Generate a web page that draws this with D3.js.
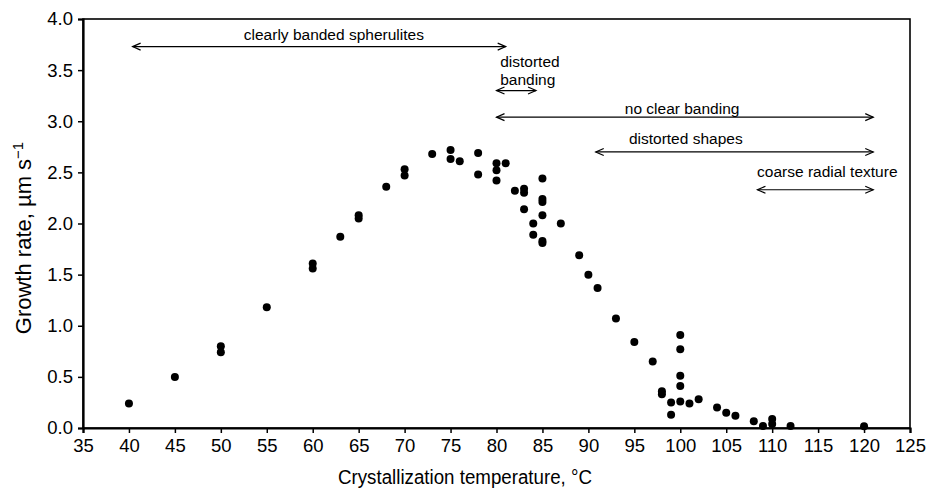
<!DOCTYPE html>
<html>
<head>
<meta charset="utf-8">
<script src="https://cdn.jsdelivr.net/npm/d3@7"></script>
<style>
  body { margin: 0; background: #fff; }
  svg { display: block; font-family: "Liberation Sans", Arial, sans-serif; }
</style>
</head>
<body>
<div id="chart"></div>
<script>
// crystallization temperature (°C) and growth rate (µm/s)
const temps = [40, 45, 50, 50, 55, 60, 60, 63, 65, 65, 68, 70, 70, 73, 75, 75, 76, 78, 78,
    80, 80, 80, 81, 82, 83, 83, 83, 84, 84, 85, 85, 85, 85, 85, 85, 87, 89, 90, 91, 93, 95, 97,
    98, 98, 99, 99, 100, 100, 100, 100, 100, 101, 102, 104, 105, 106, 108, 109, 110, 110, 112, 120];
const rates = [0.24, 0.50, 0.80, 0.74, 1.18, 1.61, 1.56, 1.87, 2.08, 2.05, 2.36, 2.53, 2.47, 2.68, 2.72, 2.63, 2.61, 2.69, 2.48,
    2.59, 2.52, 2.42, 2.59, 2.32, 2.34, 2.30, 2.14, 2.00, 1.89, 2.44, 2.24, 2.21, 2.08, 1.83, 1.81, 2.00, 1.69, 1.50, 1.37, 1.07, 0.84, 0.65,
    0.36, 0.33, 0.25, 0.13, 0.91, 0.77, 0.51, 0.41, 0.26, 0.24, 0.28, 0.20, 0.15, 0.12, 0.065, 0.02, 0.088, 0.04, 0.02, 0.016];

const xTicks = d3.range(35, 126, 5);
const yTicks = [0, 0.5, 1, 1.5, 2, 2.5, 3, 3.5, 4];

// morphology ranges (temperature span, level in growth-rate units)
const rangeFrom = [40.4, 80, 80, 90.8, 108.4];
const rangeTo = [81, 84.3, 121, 121, 121];
const rangeLevel = [3.73, 3.30, 3.04, 2.70, 2.33];

const width = 930, height = 498;
const margin = {top: 19, right: 20, bottom: 70, left: 83};

const svg = d3.select('#chart').append('svg')
    .attr('width', width)
    .attr('height', height);

const x = d3.scaleLinear().domain([35, 125]).range([margin.left, width - margin.right]);
const y = d3.scaleLinear().domain([0, 4]).range([height - margin.bottom, margin.top]);

// frame
svg.append('rect')
    .attr('x', x(35)).attr('y', y(4))
    .attr('width', x(125) - x(35)).attr('height', y(0) - y(4))
    .attr('fill', 'none').attr('stroke', '#000').attr('stroke-width', 1.6);

const xAxis = svg.append('g')
    .attr('transform', `translate(0,${y(0)})`)
    .call(d3.axisBottom(x).tickValues(xTicks).tickSize(5).tickPadding(6).tickFormat(d3.format('d')));
const yAxis = svg.append('g')
    .attr('transform', `translate(${x(35)},0)`)
    .call(d3.axisLeft(y).tickValues(yTicks).tickSize(5).tickPadding(5).tickFormat(d3.format('.1f')));

[xAxis, yAxis].forEach(g => {
    g.select('.domain').attr('stroke-width', 2.2);
    g.selectAll('.tick line').attr('stroke-width', 1.5);
    g.selectAll('.tick text').style('font-size', '18.5px').attr('fill', '#000');
});

// points
svg.append('g')
    .selectAll('circle')
    .data(temps.map((t, i) => ({t, r: rates[i]})))
    .enter()
    .append('circle')
    .attr('cx', d => x(d.t))
    .attr('cy', d => y(d.r))
    .attr('r', 4)
    .attr('fill', '#000');

// double-headed arrows
function head(px, py, dir) {
    return `M${px + dir * 8},${py - 3.5}L${px},${py}L${px + dir * 8},${py + 3.5}`;
}
const ann = svg.append('g').attr('stroke', '#000').attr('fill', 'none').attr('stroke-width', 1.2);
rangeFrom.forEach((f, i) => {
    const x0 = x(f), x1 = x(rangeTo[i]), yy = y(rangeLevel[i]);
    ann.append('line').attr('x1', x0).attr('x2', x1).attr('y1', yy).attr('y2', yy);
    ann.append('path').attr('d', head(x0, yy, 1));
    ann.append('path').attr('d', head(x1, yy, -1));
});

const txt = svg.append('g').style('font-size', '15.5px').attr('fill', '#000');
txt.append('text').attr('x', x(62.3)).attr('y', 40).attr('text-anchor', 'middle').text('clearly banded spherulites');
txt.append('text').attr('x', x(80.4)).attr('y', 67).text('distorted');
txt.append('text').attr('x', x(80.4)).attr('y', 85).text('banding');
txt.append('text').attr('x', x(100.2)).attr('y', 114).attr('text-anchor', 'middle').text('no clear banding');
txt.append('text').attr('x', x(100.6)).attr('y', 144).attr('text-anchor', 'middle').text('distorted shapes');
txt.append('text').attr('x', x(116)).attr('y', 177).attr('text-anchor', 'middle').text('coarse radial texture');

// axis titles
svg.append('text')
    .attr('x', 465)
    .attr('y', 484)
    .attr('text-anchor', 'middle')
    .attr('textLength', 254)
    .attr('lengthAdjust', 'spacingAndGlyphs')
    .style('font-size', '20px')
    .text('Crystallization temperature, °C');

const yt = svg.append('text')
    .attr('transform', `translate(31,${238}) rotate(-90)`)
    .attr('text-anchor', 'middle')
    .style('font-size', '22px');
yt.append('tspan').text('Growth rate, µm s');
yt.append('tspan').attr('dy', -8).style('font-size', '15px').text('−1');
</script>
</body>
</html>
